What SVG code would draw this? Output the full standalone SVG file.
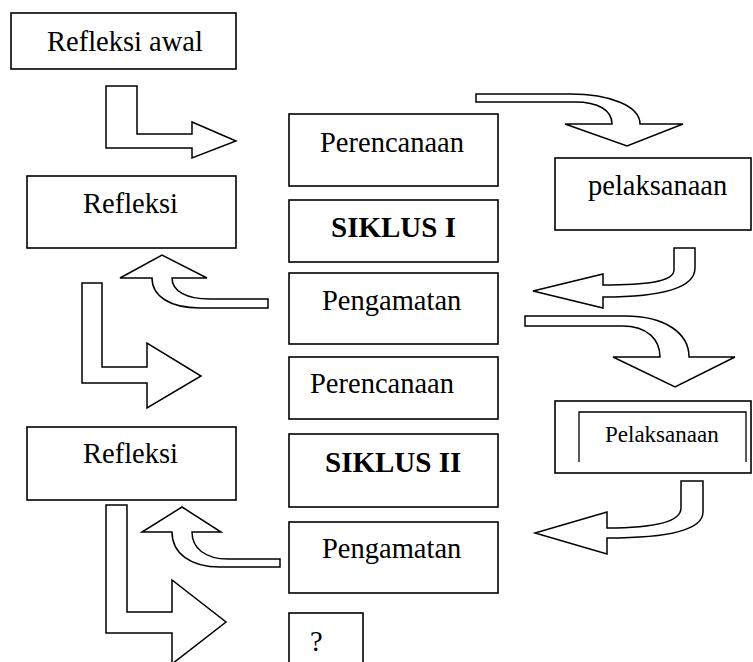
<svg xmlns="http://www.w3.org/2000/svg" width="753" height="662" viewBox="0 0 753 662">
<style>
.box{fill:#fff;stroke:#000;stroke-width:1.6}
.arr{fill:#fff;stroke:#000;stroke-width:1.5;stroke-linejoin:miter}
.t{font-family:"Liberation Serif","Times New Roman",serif;font-size:28.5px;fill:#000}
.b{font-weight:bold;font-size:29px}
.s{font-size:23px}
</style>
<rect width="753" height="662" fill="#fff"/>
<g id="connectors">
<polygon class="arr" points="106,86 137,86 137,134 192,134 192,122 236,141 192,158 192,148 106,148"/>
<polygon class="arr" points="82,283 102,283 102,367 147,367 147,343 201,376 147,408 147,383 82,383"/>
<polygon class="arr" points="106,505 127,505 127,612 172,612 172,580 226,622 172,664 172,633 106,633"/>
<path class="arr" d="M476,94 L570,94 C610,94 640,106 640,124 L683,124 L627,146 L565,124 L612,124 C612,110 598,102 575,102 L476,102 Z"/>
<path class="arr" d="M674,248 L695,248 L695,268 C695,290 655,297 603,297 L603,308 L533,291 L603,274 L603,285 C645,285 674,282 674,270 Z"/>
<path class="arr" d="M525,316 L625,316 C665,316 689,333 689,357 L735,357 L675,387 L613,357 L660,357 C660,340 648,326 622,326 L525,326 Z"/>
<path class="arr" d="M681,481 L703,481 L703,512 C703,532 660,538 607,538 L607,554 L535,533 L607,512 L607,528 C655,528 681,522 681,508 Z"/>
<path class="arr" d="M268,299 L268,308 L200,308 C170,308 152,296 152,278 L120,278 L162,255 L207,278 L172,278 C172,291 186,299 210,299 Z"/>
<path class="arr" d="M280,559 L280,567 L220,567 C190,567 172,553 172,532 L142,532 L182,507 L221,532 L192,532 C192,548 205,559 228,559 Z"/>
</g>
<g id="refleksi-awal"><rect class="box" x="11" y="13" width="225" height="56"/><text class="t" x="47" y="51">Refleksi awal</text></g>
<g id="refleksi-1"><rect class="box" x="27" y="176" width="209" height="72"/><text class="t" x="83" y="213">Refleksi</text></g>
<g id="refleksi-2"><rect class="box" x="27" y="427" width="209" height="73"/><text class="t" x="83" y="463">Refleksi</text></g>
<g id="perencanaan-1"><rect class="box" x="289" y="114" width="209" height="72"/><text class="t" x="320" y="152">Perencanaan</text></g>
<g id="siklus-1"><rect class="box" x="289" y="200" width="209" height="62"/><text class="t b" x="331" y="237">SIKLUS I</text></g>
<g id="pengamatan-1"><rect class="box" x="289" y="273" width="209" height="71"/><text class="t" x="322" y="310">Pengamatan</text></g>
<g id="perencanaan-2"><rect class="box" x="289" y="357" width="209" height="62"/><text class="t" x="310" y="393">Perencanaan</text></g>
<g id="siklus-2"><rect class="box" x="289" y="434" width="209" height="73"/><text class="t b" x="325" y="472">SIKLUS II</text></g>
<g id="pengamatan-2"><rect class="box" x="289" y="522" width="209" height="71"/><text class="t" x="322" y="558">Pengamatan</text></g>
<g id="tanya"><rect class="box" x="289" y="613" width="74" height="60"/><text class="t" x="310" y="651">?</text></g>
<g id="pelaksanaan-1"><rect class="box" x="555" y="158" width="196" height="72"/><text class="t" x="588" y="195">pelaksanaan</text></g>
<g id="pelaksanaan-2"><rect class="box" x="555" y="401" width="196" height="72"/><polyline points="579,462 579,412 746,412 746,462" fill="none" stroke="#000" stroke-width="1.3"/><text class="t s" x="605" y="442">Pelaksanaan</text></g>
</svg>
